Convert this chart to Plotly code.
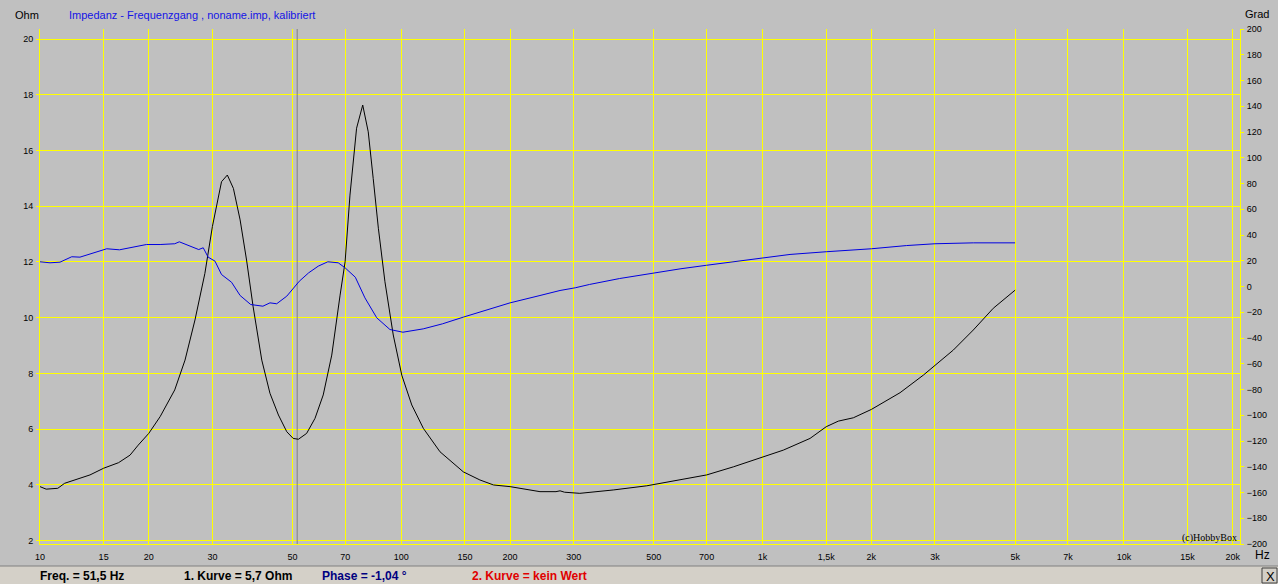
import plotly.graph_objects as go

# ---- data ----
freq_imp = [10, 10.4, 11.2, 11.7, 13.75, 15, 16.5, 17.75, 18.7, 20, 21.5, 23.6, 25.2, 26.85, 28.6,
            30, 31.8, 33.0, 34.3, 35.8, 37.3, 38.9, 41.1, 43.3, 45.7, 48.2, 50.2, 51.9, 54.7, 57.7,
            60.8, 64.2, 67.7, 69.9, 72.1, 75.2, 78.2, 81.0, 83.6, 86.4, 90.1, 95.0, 100.3, 106.9,
            115.1, 128, 148.5, 165, 180, 200, 242, 268, 275, 283, 312, 386, 478, 591, 700, 830,
            1000, 1141, 1353, 1500, 1620, 1783, 2000, 2401, 2785, 3000, 3372, 3830, 4350, 5000]
impedance_ohm = [3.94, 3.85, 3.88, 4.06, 4.36, 4.60, 4.80, 5.07, 5.43, 5.85, 6.45, 7.41, 8.48, 9.92, 11.59,
                 13.27, 14.88, 15.12, 14.64, 13.51, 12.07, 10.39, 8.48, 7.29, 6.51, 5.91, 5.67, 5.64, 5.85, 6.39,
                 7.23, 8.66, 10.81, 12.01, 14.40, 16.80, 17.63, 16.67, 15.0, 13.21, 11.29, 9.38, 7.94, 6.87,
                 6.03, 5.19, 4.47, 4.18, 4.0, 3.94, 3.76, 3.76, 3.79, 3.74, 3.70, 3.82, 3.97, 4.18, 4.36, 4.65,
                 4.99, 5.25, 5.67, 6.09, 6.29, 6.41, 6.71, 7.31, 7.94, 8.30, 8.84, 9.56, 10.34, 10.99]

freq_phase = [10, 10.66, 11.36, 12.24, 12.9, 14.2, 15.3, 16.6, 18.1, 19.7, 21.5, 23.6, 24.3, 25.7, 27.5,
              28.3, 29.2, 30.5, 31.8, 33.9, 35.8, 38.3, 41.4, 43.3, 45.2, 48.2, 50.3, 52.2, 55.4, 58.9,
              62.6, 66.9, 69.9, 74.6, 79.3, 85.5, 93, 101, 115, 130, 148.5, 165, 176, 200, 242, 275,
              303, 332, 402, 500, 591, 700, 830, 1000, 1191, 1500, 2000, 2504, 3000, 3830, 5000]
phase_deg = [19.2, 18.4, 18.9, 23.1, 22.8, 26.2, 29.3, 28.5, 30.8, 32.6, 32.6, 33.2, 34.7, 31.8, 28.7,
             30.1, 22.8, 19.7, 9.3, 3.3, -7.0, -14.0, -15.3, -12.7, -13.4, -7.5, -1.0, 4.1, 10.6, 15.8,
             19.2, 18.4, 14.5, 7.2, -8.8, -24.3, -33.4, -35.5, -32.9, -29.0, -23.8, -20.0, -17.9, -12.7, -7.0, -3.1,
             -1.0, 1.6, 6.2, 10.6, 13.7, 16.5, 19.2, 21.7, 24.9, 27.0, 29.3, 31.8, 33.2, 33.9, 33.9]

cursor_freq = 51.5

x_tickvals = [10, 15, 20, 30, 50, 70, 100, 150, 200, 300, 500, 700, 1000, 1500, 2000, 3000,
              5000, 7000, 10000, 15000, 20000]
x_ticktext = ["10", "15", "20", "30", "50", "70", "100", "150", "200", "300", "500", "700", "1k",
              "1,5k", "2k", "3k", "5k", "7k", "10k", "15k", "20k"]
ohm_ticks = [2, 4, 6, 8, 10, 12, 14, 16, 18, 20]
grad_ticks = list(range(-200, 201, 20))

# ---- layout geometry ----
W, H = 1278, 584
L, R, T, B = 40, 38, 29, 40
PW = W - L - R
PH = H - T - B


def px(xp):
    return (xp - L) / PW


def py(yp):
    return (H - B - yp) / PH


BG = "#C0C0C0"
YEL = "#FFFF00"
FONT = "Liberation Sans"

fig = go.Figure()
fig.add_trace(go.Scatter(x=[cursor_freq, cursor_freq], y=[1.0, 21.0], mode="lines",
                         line=dict(color="#808080", width=1), hoverinfo="skip", showlegend=False))
fig.add_trace(go.Scatter(x=freq_phase, y=phase_deg, yaxis="y2", mode="lines",
                         line=dict(color="#0000E0", width=1), showlegend=False))
fig.add_trace(go.Scatter(x=freq_imp, y=impedance_ohm, mode="lines",
                         line=dict(color="#000000", width=1), showlegend=False))

fig.update_layout(
    width=W, height=H, autosize=False,
    margin=dict(l=L, r=R, t=T, b=B, pad=0),
    paper_bgcolor=BG, plot_bgcolor=BG,
    font=dict(family=FONT, size=9, color="#000000"),
    xaxis=dict(type="log", range=[1, 1 + 1200 / 361.3], tickvals=x_tickvals, ticktext=x_ticktext,
               showgrid=True, gridcolor=YEL, gridwidth=1, ticks="", showline=True, linecolor=YEL,
               linewidth=1, zeroline=False, tickfont=dict(size=9, family=FONT), ticklabelstandoff=4),
    yaxis=dict(range=[1.882, 20.359], tickvals=ohm_ticks, showgrid=True, gridcolor=YEL, gridwidth=1,
               ticks="outside", ticklen=3, tickcolor=YEL, showline=True, linecolor=YEL, linewidth=1,
               zeroline=False, tickfont=dict(size=9, family=FONT), ticklabelstandoff=1),
    yaxis2=dict(range=[-200, 200], tickvals=grad_ticks, overlaying="y", side="right", showgrid=False,
                ticks="outside", ticklen=3, tickcolor=YEL, showline=True, linecolor=YEL, linewidth=1,
                zeroline=False, tickfont=dict(size=9, family=FONT), ticklabelstandoff=1),
)

ann = [
    dict(text="Ohm", x=px(13), y=py(15), xanchor="left", yanchor="middle", font=dict(size=11, color="#000000")),
    dict(text="Impedanz - Frequenzgang , noname.imp, kalibriert", x=px(67), y=py(15), xanchor="left",
         yanchor="middle", font=dict(size=11, color="#1414E6")),
    dict(text="Grad", x=px(1243), y=py(14), xanchor="left", yanchor="middle", font=dict(size=11, color="#000000")),
    dict(text="Hz", x=px(1253), y=py(555), xanchor="left", yanchor="middle", font=dict(size=12, color="#000000")),
    dict(text="(c)HobbyBox", x=px(1239), y=py(538), xanchor="right", yanchor="middle",
         font=dict(size=10, color="#000000", family="Liberation Serif")),
    dict(text="<b>Freq. = 51,5 Hz</b>", x=px(38), y=py(576), xanchor="left", yanchor="middle",
         font=dict(size=12, color="#000000")),
    dict(text="<b>1. Kurve = 5,7 Ohm</b>", x=px(182), y=py(576), xanchor="left", yanchor="middle",
         font=dict(size=12, color="#000000")),
    dict(text="<b>Phase = -1,04 °</b>", x=px(320), y=py(576), xanchor="left", yanchor="middle",
         font=dict(size=12, color="#000080")),
    dict(text="<b>2. Kurve = kein Wert</b>", x=px(470), y=py(576), xanchor="left", yanchor="middle",
         font=dict(size=12, color="#E00000")),
    dict(text="X", x=px(1270), y=py(576), xanchor="center", yanchor="middle",
         font=dict(size=13, color="#000000")),
]
for a in ann:
    a.update(xref="paper", yref="paper", showarrow=False)
fig.update_layout(annotations=ann)

shapes = [
    dict(type="rect", x0=px(0), x1=px(W), y0=py(H), y1=py(566), fillcolor="#D4D0C8",
         line=dict(width=0), layer="below"),
    dict(type="line", x0=px(0), x1=px(W), y0=py(566), y1=py(566), line=dict(color="#808080", width=1)),
    dict(type="rect", x0=px(1262), x1=px(1277), y0=py(583), y1=py(568), fillcolor="#D4D0C8",
         line=dict(color="#404040", width=1), layer="below"),
]
for s in shapes:
    s.update(xref="paper", yref="paper")
fig.update_layout(shapes=shapes)

post_js = (
    "document.body.style.margin='0px';document.body.style.overflow='hidden';"
    "var st=document.createElement('style');"
    "st.textContent='.gridlayer path, .xlines-above, .ylines-above, .xlines-below, .ylines-below,"
    " .crisp {shape-rendering:crispEdges !important;}';"
    "document.head.appendChild(st);"
)
fig.write_html("out.html", config={"displayModeBar": False, "staticPlot": True}, post_script=post_js)
